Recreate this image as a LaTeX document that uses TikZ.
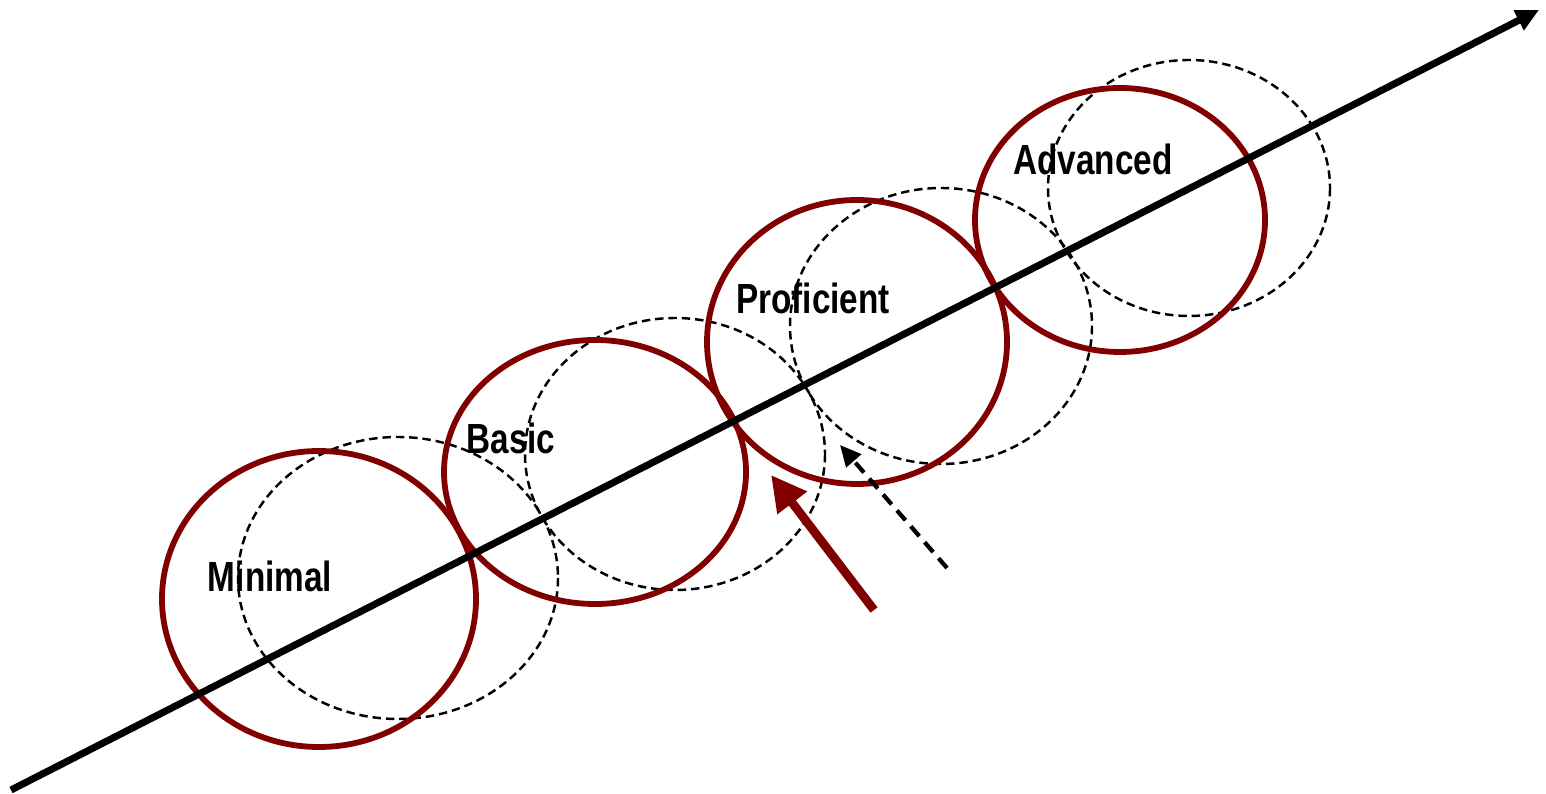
\documentclass[tikz,border=0pt]{standalone}
\usepackage{fontspec}
\newfontfamily\levelfont[FakeStretch=0.79]{Liberation Sans}
\usepackage{tikz}
\usetikzlibrary{arrows.meta}
\definecolor{ringred}{RGB}{128,0,0}

\begin{document}
\begin{tikzpicture}[
        x=0.1mm, y=-0.1mm,
        levelring/.style={ringred, line width=1.65pt},
        shiftring/.style={black, line width=0.7pt, dash pattern=on 2.4pt off 1.4pt},
        levelname/.style={anchor=base, inner sep=0pt, font=\levelfont\bfseries\fontsize{12}{14}\selectfont},
        axisline/.style={line width=2pt, -{Triangle[length=6.5pt,width=6pt]}},
        pusharrow/.style={ringred, line width=2.5pt, -{Triangle[length=10pt,width=10pt]}},
        pullarrow/.style={black, line width=1.2pt, dash pattern=on 3.7pt off 2.3pt, -{Triangle[length=6pt,width=5.5pt]}}
    ]
        \useasboundingbox (0,0) rectangle (1546,794);

        % Dashed rings (shifted levels)
        \draw[shiftring] (398,578) ellipse [x radius=160, y radius=141];
        \draw[shiftring] (675,454) ellipse [x radius=150, y radius=136];
        \draw[shiftring] (941,326) ellipse [x radius=151, y radius=138];
        \draw[shiftring] (1189,188) ellipse [x radius=141, y radius=128];

        % Solid rings (levels)
        \draw[levelring] (319,599) ellipse [x radius=157, y radius=148];
        \draw[levelring] (595,472) ellipse [x radius=151, y radius=132];
        \draw[levelring] (857,342) ellipse [x radius=150, y radius=142];
        \draw[levelring] (1120,220) ellipse [x radius=145, y radius=132];

        % Main axis
        \coordinate (axisstart) at (11,790);
        \coordinate (axisend) at (1539,10);
        \draw[axisline] (axisstart) -- (axisend);

        % Level names
        \node[levelname] (minimal) at (270,592) {Minimal};
        \node[levelname] (basic) at (511,454) {Basic};
        \node[levelname] (proficient) at (813,314) {Proficient};
        \node[levelname] (advanced) at (1093,175) {Advanced};

        % Arrows
        \coordinate (pushstart) at (874,610);
        \coordinate (pushend) at (771,475);
        \draw[pusharrow] (pushstart) -- (pushend);
        \coordinate (pullstart) at (947,568);
        \coordinate (pullend) at (840,445);
        \draw[pullarrow] (pullstart) -- (pullend);
    \end{tikzpicture}
\end{document}
